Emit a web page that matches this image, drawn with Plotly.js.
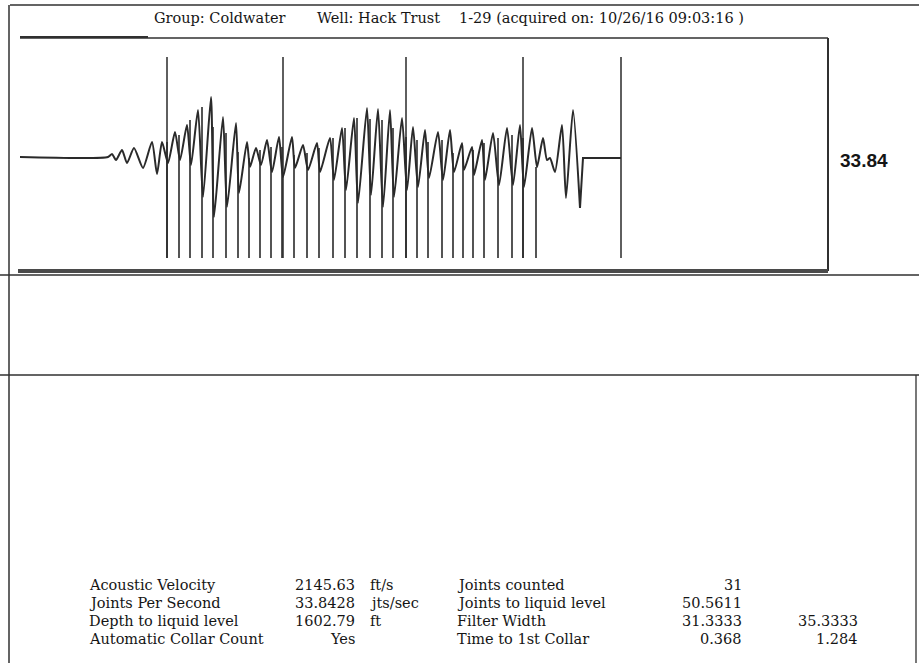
<!DOCTYPE html>
<html>
<head>
<meta charset="utf-8">
<script src="https://cdn.plot.ly/plotly-3.0.1.min.js"></script>
<style>html,body{margin:0;padding:0;background:#fff;}#chart{width:919px;height:663px;}</style>
</head>
<body>
<div id="chart"></div>
<script>
// ---- Waveform data (sample index vs relative amplitude) ----
var preX = [20,108,112,116,122,127,134,143,152,157,162];
var preY = [0,0,3,-3,7,-6,9,-11,15,-17,15];
var collarX = [167,179,190,202,213,226,238,249,260,271,282,294,307,319,333,345,357,370,382,393,406,417,428,442,453,463,473,484,498,512,523,536];
var troughY = [-6,-3,-8,-40,-60,-50,-36,-10,-8,-15,-20,-11,-13,-15,-23,-33,-46,-38,-50,-40,-33,-30,-21,-23,-15,-13,-18,-23,-28,-28,-30,-10];
var peakX = [175,187,198,211,223,236,247,256,267,279,292,303,317,330,342,354,367,378,390,402,413,425,438,450,462,472,482,493,507,520,532];
var peakY = [25,32,47,60,40,34,15,9,17,20,20,12,14,19,29,39,49,48,47,39,30,27,25,27,14,10,17,24,29,32,29];
var tailX = [543,547,550,555,562,566,573,580,583,621];
var tailY = [19,-3,-1,-15,32,-41,47,-51,-1,-1];
var clipLevel = -101;
var markerX = [167,283,406,523,621];
var markerTop = 100;

// ---- Header and table text ----
var groupText = "Group: Coldwater";
var wellText = "Well: Hack Trust";
var acqText = "1-29 (acquired on: 10/26/16 09:03:16 )";
var jpsLabel = "33.84";
var labels1 = ["Acoustic Velocity","Joints Per Second","Depth to liquid level","Automatic Collar Count"];
var values1 = ["2145.63","33.8428","1602.79","Yes"];
var units1 = ["ft/s","jts/sec","ft",""];
var labels2 = ["Joints counted","Joints to liquid level","Filter Width","Time to 1st Collar"];
var values2 = ["31","50.5611","31.3333","0.368"];
var values3 = ["","","35.3333","1.284"];

// ---- Build traces from the arrays ----
var wx = preX.slice(), wy = preY.slice();
for (var i = 0; i < collarX.length; i++) {
  wx.push(collarX[i] + 1); wy.push(troughY[i]);
  if (i < peakX.length) { wx.push(peakX[i]); wy.push(peakY[i]); }
}
wx = wx.concat(tailX.slice(0, tailX.length - 2)); wy = wy.concat(tailY.slice(0, tailY.length - 2));
var flatX = tailX.slice(tailX.length - 3), flatY = tailY.slice(tailY.length - 3);

var sx = [], sy = [];
collarX.forEach(function (x, k) { sx.push(x, x, null); sy.push(Math.max(troughY[k], (k < peakY.length ? peakY[k] : 0)) - 10, clipLevel, null); });

var mx = [], my = [];
markerX.forEach(function (x) { mx.push(x, x, null); my.push(markerTop, clipLevel, null); });

var W = 919, H = 663;
function P(x) { return x / W; }
function Q(y) { return 1 - y / H; }
var ink = "#151515";
function seg(x0, y0, x1, y1, w, c) {
  return {type: "line", xref: "paper", yref: "paper", x0: P(x0), y0: Q(y0), x1: P(x1), y1: Q(y1),
          line: {color: c || "#303030", width: w}};
}
var shapes = [
  seg(10, 5, 919, 5, 1.5),
  seg(9, 5, 9, 663, 1.5),
  seg(20, 38, 828, 38, 1.5),
  seg(20, 37, 148, 37, 2),
  seg(828, 38, 828, 271, 2),
  seg(18, 271, 828, 271, 4, "#4a4a4a"),
  seg(0, 275, 919, 275, 1.5),
  seg(0, 375, 919, 375, 1.3),
  seg(916, 375, 916, 663, 1.3)
];

var serif = "DejaVu Serif";
function ann(text, x, y, anchor, size, fam, bold) {
  return {text: bold ? "<b>" + text + "</b>" : text, xref: "paper", yref: "paper", x: P(x), y: Q(y),
          xanchor: anchor, yanchor: "middle", showarrow: false,
          font: {family: fam || serif, size: size || 14, color: ink}};
}
var annotations = [
  ann(groupText, 152, 18, "left", 14.5),
  ann(wellText, 315, 18, "left", 14.5),
  ann(acqText, 457, 18, "left", 14.5),
  ann(jpsLabel, 864, 160, "center", 19, "Liberation Sans", true)
];
var rowY = [585, 603, 621, 639];
for (var r = 0; r < labels1.length; r++) {
  annotations.push(ann(labels1[r], 87, rowY[r], "left", 14.5));
  annotations.push(ann(values1[r], 357, rowY[r], "right", 14.5));
  if (units1[r]) annotations.push(ann(units1[r], 368, rowY[r], "left", 14.5));
  annotations.push(ann(labels2[r], 455, rowY[r], "left", 14.5));
  annotations.push(ann(values2[r], 744, rowY[r], "right", 14.5));
  if (values3[r]) annotations.push(ann(values3[r], 860, rowY[r], "right", 14.5));
}

var lineCol = "#2a2a2a";
var traces = [
  {x: wx, y: wy, type: "scatter", mode: "lines", line: {color: lineCol, width: 2, shape: "spline", smoothing: 0.6}, hoverinfo: "skip"},
  {x: flatX, y: flatY, type: "scatter", mode: "lines", line: {color: lineCol, width: 2}, hoverinfo: "skip"},
  {x: sx, y: sy, type: "scatter", mode: "lines", line: {color: lineCol, width: 1.6}, hoverinfo: "skip"},
  {x: mx, y: my, type: "scatter", mode: "lines", line: {color: lineCol, width: 1.5}, hoverinfo: "skip"}
];

var layout = {
  width: W, height: H, margin: {l: 0, r: 0, t: 0, b: 0},
  paper_bgcolor: "#fff", plot_bgcolor: "rgba(0,0,0,0)", showlegend: false,
  xaxis: {domain: [18 / W, 828 / W], range: [18, 828], visible: false, fixedrange: true},
  yaxis: {domain: [1 - 271 / H, 1 - 38 / H], range: [-114, 119], visible: false, fixedrange: true},
  shapes: shapes, annotations: annotations
};
Plotly.newPlot("chart", traces, layout, {staticPlot: true, displayModeBar: false});
</script>
</body>
</html>
